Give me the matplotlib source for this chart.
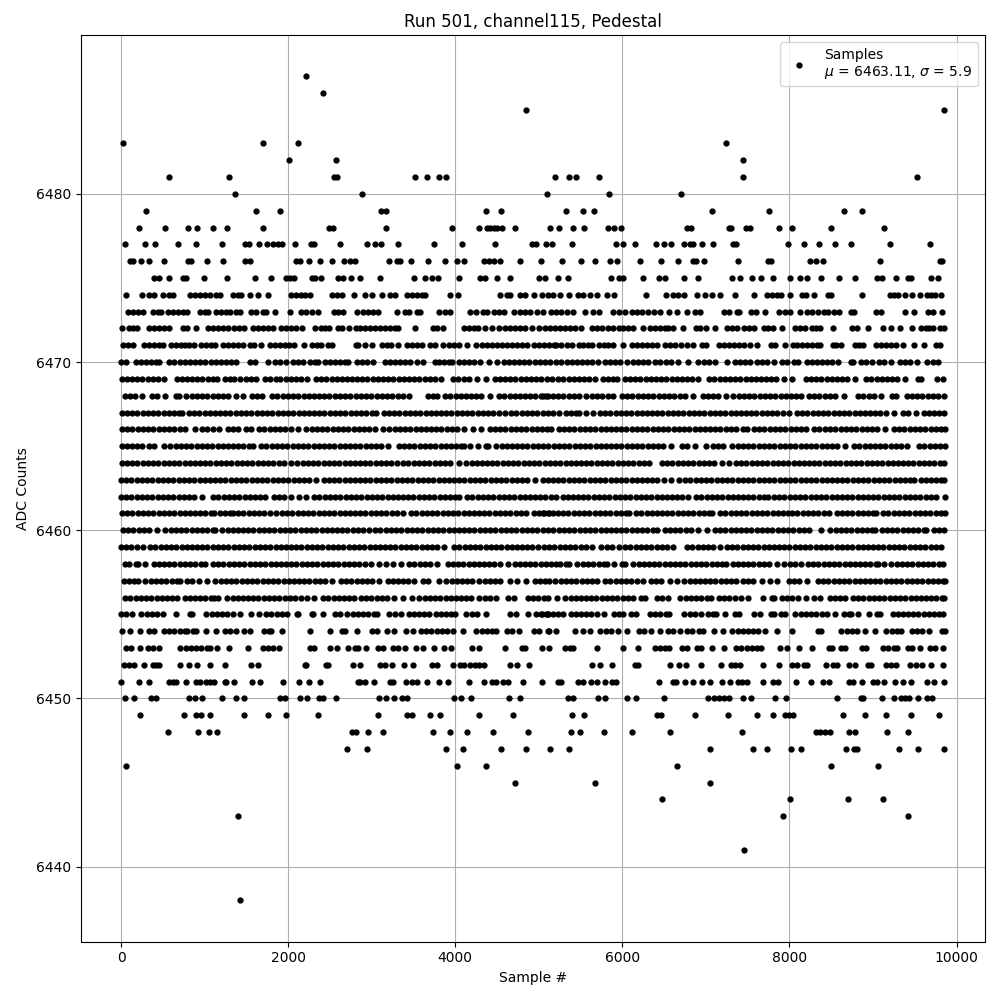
import matplotlib
matplotlib.use("Agg")
import matplotlib.pyplot as plt

title = "Run 501, channel115, Pedestal"
legend_label = "Samples\n$\\mu$ = 6463.11, $\\sigma$ = 5.9"

# sample numbers seen at each ADC level
s6487 = [2216]
s6486 = [2420]
s6485 = [4844, 9856]
s6483 = [20, 1700, 2120, 7236]
s6482 = [2012, 2576, 7440]
s6481 = [572, 1292, 2548, 2580, 3524, 3668, 3800, 3884, 5196, 5364, 5440, 5724, 7440, 9528]
s6480 = [1364, 2888, 5100, 5844, 6708]
s6479 = [296, 1616, 1904, 3112, 3172, 4364, 4544, 5328, 5532, 5664, 7068, 7752, 8652, 8868]
s6478 = [212, 524, 800, 908, 1100, 1268, 1700, 2484, 2540, 3176, 3956, 4280, 4380, 4420, 4460, 4500, 4560, 4712, 5136, 5244, 5412, 5544, 5832, 5904, 5988, 6780, 6820, 7272, 7304, 7484, 7532, 7872, 8028, 8496, 9132]
s6477 = [44, 288, 404, 680, 896, 1208, 1480, 1532, 1652, 1748, 1820, 1880, 1932, 2084, 2272, 2308, 2624, 2948, 3044, 3116, 3320, 3752, 4076, 4472, 4920, 4964, 5088, 5160, 5400, 5928, 6012, 6156, 6408, 6496, 6588, 6744, 6812, 6844, 6948, 7080, 7320, 7364, 7980, 8172, 8352, 8544, 8736, 9204, 9684]
s6476 = [108, 140, 236, 332, 512, 800, 840, 1028, 1220, 1480, 1548, 2092, 2148, 2252, 2384, 2520, 2672, 2740, 2800, 3212, 3300, 3340, 3476, 3680, 3872, 4016, 4100, 4340, 4400, 4460, 4540, 4772, 5024, 5280, 5508, 5676, 5856, 5940, 6216, 6468, 6672, 6852, 6884, 6972, 7380, 7744, 7780, 8244, 8324, 8400, 9084, 9804, 9828]
s6475 = [400, 460, 572, 740, 772, 992, 1268, 1604, 1796, 1972, 2020, 2072, 2280, 2320, 2396, 2596, 2660, 2748, 2864, 3104, 3512, 3644, 3724, 3788, 4048, 4300, 4360, 4500, 4652, 5000, 5072, 5232, 5352, 5868, 5964, 6004, 6252, 6444, 6516, 6744, 6900, 7308, 7404, 7548, 7656, 7800, 8004, 8124, 8208, 8376, 8592, 8784, 9052, 9112, 9276, 9420, 9452, 9696, 9780]
s6474 = [60, 248, 340, 400, 508, 580, 620, 820, 880, 940, 1000, 1060, 1140, 1180, 1344, 1400, 1440, 1540, 1640, 1764, 2040, 2100, 2160, 2200, 2264, 2520, 2580, 2640, 2792, 2920, 3000, 3128, 3220, 3280, 3420, 3480, 3540, 3600, 3640, 3932, 4032, 4540, 4620, 4660, 4780, 4840, 4940, 5040, 5112, 5172, 5252, 5364, 5472, 5532, 5612, 5692, 5816, 5896, 6288, 6528, 6604, 6672, 6744, 6892, 6984, 7068, 7164, 7352, 7580, 7732, 7792, 7852, 7900, 8004, 8152, 8204, 8292, 8460, 8492, 8868, 9204, 9252, 9300, 9384, 9468, 9564, 9652, 9692, 9748, 9816]
s6473 = [80, 140, 200, 260, 380, 440, 480, 560, 620, 680, 740, 788, 940, 1000, 1044, 1140, 1200, 1260, 1308, 1372, 1420, 1556, 1620, 1700, 1740, 1844, 2020, 2160, 2220, 2280, 2360, 2548, 2600, 2660, 2828, 2900, 2960, 3020, 3072, 3308, 3400, 3448, 3540, 3580, 3800, 3880, 3940, 4172, 4244, 4332, 4380, 4460, 4520, 4580, 4708, 4780, 4840, 4900, 4980, 5048, 5152, 5212, 5272, 5332, 5404, 5556, 5644, 5724, 5884, 5964, 6032, 6112, 6172, 6232, 6304, 6380, 6456, 6564, 6652, 6772, 6872, 6932, 7212, 7280, 7372, 7400, 7540, 7600, 7704, 7872, 7944, 8012, 8132, 8212, 8272, 8340, 8412, 8460, 8532, 8592, 8732, 8772, 9032, 9100, 9384, 9492, 9664, 9724, 9828]
s6472 = [8, 100, 140, 188, 340, 400, 460, 520, 572, 740, 788, 896, 1040, 1100, 1160, 1220, 1280, 1352, 1412, 1472, 1580, 1640, 1700, 1760, 1820, 1920, 1980, 2040, 2100, 2172, 2320, 2388, 2440, 2492, 2600, 2640, 2728, 2812, 2860, 2920, 2980, 3040, 3100, 3160, 3220, 3280, 3320, 3524, 3732, 3780, 3848, 4100, 4160, 4220, 4272, 4352, 4440, 4520, 4600, 4660, 4720, 4780, 4840, 4920, 5000, 5072, 5132, 5192, 5252, 5312, 5372, 5432, 5500, 5632, 5692, 5752, 5832, 5892, 5964, 6012, 6072, 6124, 6244, 6332, 6392, 6452, 6512, 6552, 6612, 6724, 6880, 6932, 7000, 7104, 7252, 7312, 7372, 7452, 7512, 7572, 7692, 7740, 7800, 7912, 8072, 8132, 8184, 8272, 8324, 8372, 8524, 8752, 8812, 8944, 9120, 9212, 9324, 9464, 9572, 9632, 9672, 9724, 9804, 9852]
s6471 = [20, 80, 148, 280, 340, 400, 460, 500, 600, 660, 720, 760, 812, 868, 960, 1020, 1080, 1128, 1220, 1280, 1340, 1400, 1460, 1540, 1588, 1680, 1788, 1848, 1908, 1960, 2012, 2068, 2196, 2288, 2340, 2388, 2480, 2520, 2808, 2840, 2920, 3000, 3120, 3180, 3228, 3320, 3420, 3480, 3540, 3600, 3700, 3760, 3848, 3920, 3980, 4040, 4140, 4248, 4320, 4380, 4440, 4500, 4560, 4620, 4680, 4740, 4800, 4860, 4940, 5000, 5060, 5120, 5180, 5212, 5272, 5332, 5392, 5484, 5532, 5592, 5632, 5724, 5780, 5832, 5892, 6004, 6112, 6172, 6232, 6292, 6352, 6412, 6512, 6572, 6632, 6700, 6772, 6844, 6952, 7000, 7152, 7212, 7272, 7332, 7392, 7452, 7532, 7612, 7780, 7832, 7944, 8040, 8092, 8152, 8212, 8272, 8332, 8372, 8524, 8552, 8620, 8780, 8832, 8884, 9032, 9092, 9152, 9212, 9276, 9364, 9492, 9612, 9752, 9804]
s6470 = [0, 60, 180, 240, 300, 360, 420, 460, 580, 640, 700, 760, 820, 880, 940, 1000, 1080, 1140, 1200, 1260, 1320, 1380, 1540, 1600, 1760, 1848, 1900, 1972, 2060, 2120, 2180, 2260, 2320, 2360, 2440, 2500, 2560, 2620, 2680, 2720, 2820, 2880, 2940, 3020, 3160, 3220, 3280, 3340, 3400, 3460, 3540, 3620, 3760, 3800, 3860, 3920, 3960, 4040, 4100, 4160, 4220, 4300, 4400, 4500, 4580, 4640, 4700, 4760, 4820, 4880, 4960, 5020, 5080, 5132, 5212, 5272, 5332, 5392, 5452, 5512, 5572, 5632, 5712, 5792, 5852, 5912, 5972, 6052, 6132, 6192, 6252, 6312, 6392, 6452, 6524, 6580, 6672, 6792, 6900, 6972, 7032, 7112, 7252, 7352, 7412, 7472, 7524, 7612, 7672, 7732, 7812, 7912, 7972, 8052, 8100, 8212, 8272, 8332, 8392, 8452, 8512, 8584, 8732, 8764, 8852, 8912, 8984, 9072, 9132, 9212, 9324, 9384, 9444, 9532, 9652, 9724, 9784]
s6469 = [10, 72, 130, 195, 255, 318, 380, 440, 510, 670, 730, 795, 855, 915, 975, 1040, 1100, 1150, 1250, 1310, 1350, 1430, 1490, 1550, 1620, 1725, 1785, 1850, 1905, 1970, 2030, 2095, 2155, 2225, 2330, 2395, 2455, 2520, 2580, 2640, 2705, 2765, 2830, 2890, 2950, 3015, 3075, 3140, 3200, 3260, 3325, 3385, 3450, 3510, 3570, 3635, 3695, 3760, 3825, 3975, 4035, 4100, 4160, 4265, 4372, 4475, 4535, 4600, 4660, 4720, 4785, 4845, 4910, 4970, 5030, 5095, 5160, 5235, 5295, 5360, 5420, 5480, 5545, 5605, 5670, 5765, 5825, 5885, 5940, 6030, 6090, 6155, 6215, 6280, 6340, 6400, 6465, 6525, 6590, 6650, 6710, 6775, 6835, 6900, 7040, 7100, 7165, 7225, 7290, 7350, 7410, 7475, 7535, 7600, 7660, 7720, 7785, 7845, 7940, 8032, 8195, 8255, 8320, 8380, 8445, 8505, 8565, 8630, 8690, 8780, 8920, 8980, 9045, 9105, 9170, 9230, 9290, 9380, 9535, 9580, 9765, 9840]
s6468 = [45, 105, 165, 250, 365, 430, 530, 655, 690, 780, 845, 905, 970, 1030, 1095, 1155, 1220, 1285, 1380, 1460, 1565, 1625, 1690, 1810, 1870, 1935, 1995, 2060, 2120, 2185, 2245, 2310, 2370, 2435, 2495, 2560, 2620, 2685, 2745, 2810, 2870, 2935, 2995, 3060, 3120, 3185, 3245, 3310, 3370, 3450, 3675, 3735, 3785, 3880, 3940, 4005, 4065, 4130, 4190, 4250, 4305, 4412, 4525, 4585, 4650, 4710, 4775, 4835, 4900, 4960, 5025, 5085, 5045, 5110, 5170, 5235, 5295, 5360, 5420, 5480, 5570, 5635, 5695, 5760, 5825, 5892, 5995, 6060, 6120, 6185, 6245, 6310, 6370, 6435, 6495, 6560, 6620, 6685, 6745, 6850, 6965, 7025, 7090, 7150, 7240, 7330, 7395, 7455, 7520, 7580, 7645, 7705, 7770, 7830, 7895, 7955, 8020, 8080, 8140, 8235, 8295, 8360, 8420, 8485, 8545, 8650, 8825, 8885, 8950, 9010, 9100, 9225, 9270, 9405, 9465, 9530, 9590, 9655, 9715, 9780, 9850]
s6467 = [10, 70, 135, 195, 260, 320, 385, 445, 510, 570, 635, 695, 730, 810, 875, 935, 1000, 1060, 1125, 1185, 1250, 1310, 1375, 1435, 1500, 1560, 1625, 1685, 1750, 1810, 1875, 1935, 2000, 2060, 2125, 2185, 2250, 2310, 2375, 2435, 2500, 2560, 2625, 2685, 2750, 2810, 2875, 2935, 3000, 3050, 3145, 3205, 3270, 3330, 3395, 3455, 3520, 3580, 3645, 3705, 3770, 3830, 3895, 3955, 4020, 4080, 4145, 4205, 4270, 4330, 4395, 4455, 4520, 4590, 4670, 4730, 4795, 4855, 4920, 4980, 5045, 5105, 5170, 5240, 5325, 5385, 5450, 5480, 5565, 5650, 5730, 5795, 5855, 5920, 5980, 6045, 6105, 6170, 6230, 6295, 6355, 6420, 6480, 6545, 6605, 6670, 6730, 6795, 6855, 6920, 6980, 7045, 7105, 7170, 7230, 7295, 7355, 7420, 7480, 7545, 7605, 7670, 7730, 7795, 7855, 7920, 8000, 8092, 8155, 8215, 8280, 8340, 8405, 8465, 8530, 8590, 8655, 8715, 8780, 8840, 8905, 8965, 9030, 9090, 9155, 9250, 9365, 9425, 9520, 9605, 9665, 9730, 9790, 9856]
s6466 = [10, 75, 135, 200, 260, 325, 385, 450, 510, 575, 635, 700, 760, 890, 975, 1035, 1100, 1170, 1275, 1340, 1400, 1490, 1560, 1655, 1715, 1780, 1840, 1905, 1965, 2030, 2115, 2220, 2285, 2345, 2410, 2470, 2535, 2595, 2660, 2720, 2785, 2845, 2910, 2970, 3035, 3130, 3210, 3275, 3335, 3400, 3460, 3525, 3585, 3650, 3710, 3775, 3835, 3900, 3960, 4025, 4110, 4215, 4310, 4415, 4475, 4540, 4600, 4665, 4725, 4790, 4850, 4915, 4975, 5040, 5100, 5150, 5240, 5300, 5365, 5425, 5490, 5550, 5615, 5675, 5740, 5800, 5865, 5925, 5990, 6050, 6115, 6175, 6240, 6300, 6365, 6425, 6490, 6550, 6615, 6675, 6740, 6800, 6865, 6925, 6990, 7050, 7115, 7175, 7240, 7300, 7365, 7440, 7492, 7575, 7640, 7700, 7765, 7825, 7890, 7950, 8015, 8075, 8140, 8200, 8300, 8352, 8425, 8490, 8550, 8615, 8675, 8740, 8800, 8865, 8925, 8990, 9050, 9140, 9250, 9315, 9375, 9440, 9500, 9565, 9625, 9690, 9750, 9815, 9858]
s6465 = [10, 70, 135, 195, 250, 340, 400, 510, 590, 655, 715, 780, 840, 905, 965, 1030, 1090, 1155, 1215, 1280, 1340, 1405, 1465, 1530, 1580, 1680, 1740, 1805, 1865, 1930, 1990, 2055, 2115, 2180, 2240, 2305, 2365, 2430, 2490, 2555, 2615, 2680, 2740, 2805, 2865, 2930, 2990, 3055, 3115, 3200, 3325, 3385, 3450, 3510, 3575, 3635, 3700, 3760, 3825, 3885, 3950, 4010, 4075, 4100, 4180, 4275, 4365, 4395, 4490, 4555, 4615, 4680, 4740, 4805, 4865, 4930, 4990, 5055, 5115, 5180, 5240, 5305, 5365, 5430, 5490, 5555, 5615, 5680, 5740, 5805, 5865, 5930, 5990, 6055, 6115, 6180, 6240, 6305, 6365, 6430, 6490, 6580, 6710, 6780, 6870, 7000, 7085, 7145, 7210, 7310, 7385, 7445, 7510, 7570, 7635, 7695, 7760, 7820, 7885, 7945, 8010, 8070, 8135, 8195, 8260, 8320, 8385, 8445, 8510, 8570, 8670, 8775, 8835, 8900, 8960, 9025, 9085, 9150, 9210, 9275, 9335, 9410, 9555, 9615, 9680, 9740, 9805, 9858]
s6464 = [10, 70, 135, 195, 260, 320, 385, 445, 510, 570, 635, 695, 760, 820, 885, 945, 1010, 1070, 1135, 1195, 1260, 1320, 1385, 1445, 1510, 1570, 1635, 1695, 1760, 1820, 1885, 1945, 2030, 2110, 2175, 2235, 2300, 2360, 2425, 2485, 2550, 2610, 2675, 2735, 2800, 2860, 2925, 2985, 3050, 3110, 3175, 3235, 3300, 3380, 3440, 3505, 3565, 3630, 3690, 3755, 3815, 3880, 3940, 4040, 4130, 4195, 4255, 4320, 4380, 4445, 4505, 4570, 4630, 4695, 4755, 4820, 4880, 4945, 5005, 5070, 5130, 5195, 5255, 5320, 5380, 5445, 5505, 5570, 5630, 5695, 5755, 5820, 5880, 5945, 6005, 6070, 6130, 6195, 6255, 6320, 6475, 6540, 6600, 6665, 6725, 6790, 6850, 6915, 6975, 7040, 7100, 7192, 7272, 7362, 7425, 7485, 7550, 7610, 7675, 7735, 7800, 7860, 7925, 7985, 8050, 8110, 8175, 8235, 8300, 8360, 8425, 8485, 8550, 8610, 8675, 8735, 8800, 8860, 8925, 8985, 9050, 9110, 9175, 9235, 9300, 9360, 9425, 9485, 9550, 9610, 9675, 9735, 9800, 9845]
s6463 = [2, 65, 125, 190, 250, 315, 375, 440, 500, 565, 625, 690, 750, 815, 875, 940, 1000, 1065, 1125, 1190, 1250, 1315, 1375, 1440, 1500, 1565, 1625, 1690, 1750, 1815, 1875, 1940, 2000, 2065, 2125, 2190, 2250, 2330, 2425, 2485, 2550, 2610, 2675, 2735, 2800, 2860, 2925, 2985, 3050, 3110, 3175, 3235, 3300, 3360, 3425, 3485, 3550, 3610, 3675, 3735, 3800, 3860, 3925, 3985, 4050, 4110, 4175, 4235, 4300, 4360, 4425, 4485, 4550, 4610, 4675, 4735, 4800, 4860, 4950, 5045, 5110, 5170, 5235, 5295, 5360, 5420, 5485, 5545, 5610, 5670, 5735, 5795, 5860, 5920, 5985, 6045, 6110, 6170, 6235, 6295, 6360, 6420, 6500, 6580, 6680, 6755, 6815, 6880, 6940, 7005, 7065, 7130, 7190, 7255, 7315, 7380, 7440, 7505, 7570, 7635, 7695, 7760, 7820, 7885, 7945, 8010, 8070, 8135, 8195, 8260, 8320, 8385, 8445, 8510, 8570, 8635, 8695, 8760, 8820, 8885, 8945, 9010, 9070, 9135, 9195, 9260, 9320, 9385, 9445, 9490, 9570, 9635, 9695, 9760, 9820, 9855]
s6462 = [2, 65, 125, 190, 250, 315, 375, 440, 500, 565, 625, 690, 750, 815, 875, 970, 1105, 1165, 1230, 1290, 1355, 1415, 1480, 1540, 1605, 1665, 1720, 1830, 1895, 1945, 2040, 2130, 2215, 2315, 2375, 2440, 2500, 2565, 2625, 2690, 2750, 2815, 2875, 2940, 3000, 3065, 3125, 3190, 3250, 3315, 3375, 3440, 3500, 3565, 3625, 3690, 3750, 3815, 3875, 3940, 4000, 4050, 4145, 4205, 4270, 4330, 4395, 4455, 4520, 4580, 4645, 4705, 4770, 4830, 4895, 4955, 5020, 5080, 5145, 5205, 5285, 5345, 5410, 5470, 5535, 5595, 5660, 5720, 5785, 5845, 5910, 5970, 6035, 6095, 6160, 6220, 6285, 6345, 6410, 6470, 6535, 6595, 6660, 6720, 6785, 6885, 6945, 7010, 7070, 7135, 7195, 7260, 7320, 7385, 7445, 7510, 7570, 7635, 7695, 7745, 7815, 7880, 7940, 8005, 8065, 8130, 8190, 8255, 8315, 8380, 8440, 8505, 8565, 8630, 8690, 8755, 8815, 8880, 8940, 9005, 9065, 9130, 9190, 9255, 9315, 9380, 9440, 9505, 9565, 9630, 9690, 9760, 9858]
s6461 = [10, 75, 135, 200, 260, 325, 385, 450, 510, 575, 635, 700, 760, 825, 885, 950, 1010, 1075, 1110, 1180, 1240, 1305, 1335, 1405, 1465, 1530, 1590, 1655, 1715, 1780, 1850, 1925, 1990, 2050, 2115, 2175, 2240, 2300, 2365, 2425, 2490, 2550, 2615, 2675, 2740, 2800, 2865, 2925, 2990, 3050, 3115, 3175, 3240, 3300, 3370, 3475, 3535, 3600, 3660, 3725, 3785, 3850, 3910, 3975, 4035, 4100, 4160, 4225, 4285, 4350, 4410, 4475, 4535, 4600, 4660, 4725, 4785, 4850, 4940, 5000, 5060, 5125, 5045, 5105, 5170, 5230, 5295, 5355, 5420, 5480, 5545, 5605, 5670, 5730, 5795, 5855, 5920, 5980, 6045, 6085, 6165, 6225, 6290, 6350, 6415, 6475, 6540, 6600, 6665, 6725, 6790, 6850, 6915, 6975, 7040, 7070, 7175, 7235, 7300, 7360, 7425, 7485, 7550, 7610, 7675, 7735, 7800, 7860, 7925, 7985, 8025, 8095, 8160, 8220, 8285, 8345, 8410, 8470, 8565, 8625, 8690, 8750, 8815, 8875, 8940, 9000, 9040, 9125, 9185, 9250, 9310, 9375, 9435, 9500, 9560, 9625, 9685, 9750, 9810, 9858]
s6460 = [20, 85, 145, 210, 270, 330, 428, 530, 595, 655, 720, 780, 845, 905, 970, 1030, 1095, 1130, 1210, 1275, 1335, 1400, 1460, 1525, 1585, 1650, 1710, 1775, 1835, 1900, 1960, 2025, 2085, 2150, 2210, 2275, 2335, 2400, 2460, 2525, 2585, 2650, 2710, 2775, 2835, 2900, 2970, 3045, 3105, 3170, 3230, 3295, 3355, 3420, 3480, 3545, 3605, 3670, 3730, 3795, 3855, 3920, 3980, 4045, 4105, 4170, 4230, 4295, 4355, 4420, 4480, 4545, 4605, 4670, 4730, 4795, 4855, 4920, 4980, 5045, 5105, 5175, 5240, 5300, 5365, 5425, 5490, 5550, 5615, 5675, 5740, 5800, 5865, 5925, 5990, 6050, 6115, 6175, 6240, 6300, 6365, 6420, 6510, 6570, 6635, 6695, 6760, 6820, 6910, 7012, 7110, 7170, 7235, 7295, 7360, 7420, 7485, 7545, 7610, 7670, 7735, 7795, 7860, 7920, 7985, 8045, 8110, 8170, 8240, 8380, 8490, 8555, 8615, 8680, 8740, 8805, 8865, 8930, 8990, 9020, 9105, 9165, 9230, 9290, 9355, 9415, 9480, 9540, 9605, 9640, 9725, 9785, 9850]
s6459 = [2, 65, 125, 190, 260, 350, 410, 475, 535, 600, 660, 725, 785, 850, 910, 975, 1035, 1100, 1160, 1225, 1285, 1350, 1410, 1475, 1535, 1600, 1660, 1725, 1785, 1850, 1910, 1975, 2035, 2100, 2160, 2225, 2285, 2350, 2410, 2475, 2535, 2600, 2660, 2725, 2785, 2850, 2910, 2975, 3035, 3100, 3160, 3225, 3285, 3350, 3410, 3475, 3535, 3600, 3660, 3725, 3785, 3870, 3990, 4050, 4115, 4175, 4240, 4300, 4365, 4425, 4490, 4550, 4615, 4675, 4740, 4800, 4865, 4925, 4990, 5060, 5125, 5185, 5250, 5310, 5375, 5435, 5500, 5560, 5640, 5750, 5815, 5875, 5960, 6035, 6095, 6160, 6220, 6285, 6345, 6410, 6470, 6535, 6610, 6770, 6830, 6900, 6965, 7030, 7090, 7170, 7250, 7315, 7375, 7440, 7500, 7565, 7625, 7690, 7750, 7815, 7875, 7940, 8000, 8065, 8125, 8190, 8250, 8315, 8375, 8440, 8500, 8565, 8625, 8690, 8750, 8815, 8875, 8940, 9000, 9065, 9125, 9190, 9250, 9315, 9375, 9440, 9500, 9565, 9625, 9690, 9750, 9820]
s6458 = [50, 90, 178, 200, 288, 390, 455, 515, 580, 640, 705, 765, 830, 890, 955, 1010, 1100, 1165, 1225, 1290, 1350, 1415, 1475, 1540, 1600, 1665, 1725, 1790, 1850, 1915, 1975, 2040, 2100, 2165, 2225, 2290, 2350, 2415, 2475, 2540, 2600, 2665, 2725, 2790, 2850, 2915, 2990, 3090, 3170, 3255, 3350, 3450, 3510, 3575, 3635, 3700, 3780, 3910, 3970, 4035, 4095, 4160, 4220, 4285, 4345, 4410, 4470, 4535, 4630, 4710, 4775, 4835, 4900, 4960, 5025, 5085, 5150, 5210, 5255, 5330, 5365, 5452, 5530, 5590, 5655, 5715, 5780, 5820, 5900, 5995, 6030, 6130, 6195, 6255, 6320, 6380, 6445, 6505, 6570, 6630, 6695, 6755, 6820, 6880, 6945, 7005, 7070, 7130, 7195, 7240, 7320, 7385, 7445, 7510, 7570, 7635, 7695, 7760, 7855, 7940, 8005, 8065, 8140, 8220, 8285, 8345, 8410, 8470, 8535, 8595, 8660, 8720, 8785, 8845, 8910, 8970, 9035, 9060, 9132, 9220, 9285, 9345, 9410, 9470, 9535, 9595, 9660, 9720, 9785, 9840]
s6457 = [34, 95, 160, 198, 290, 355, 415, 480, 540, 605, 665, 700, 795, 850, 938, 1030, 1130, 1195, 1255, 1320, 1380, 1445, 1505, 1570, 1630, 1695, 1755, 1820, 1880, 1945, 2005, 2070, 2130, 2195, 2255, 2320, 2380, 2445, 2530, 2630, 2695, 2755, 2820, 2880, 2945, 3005, 3090, 3190, 3255, 3315, 3380, 3440, 3505, 3610, 3680, 3800, 3895, 3960, 4020, 4085, 4145, 4200, 4290, 4355, 4415, 4480, 4540, 4650, 4740, 4852, 4950, 5010, 5075, 5120, 5200, 5265, 5325, 5390, 5450, 5515, 5575, 5640, 5700, 5795, 5855, 5920, 5980, 6045, 6105, 6175, 6244, 6340, 6405, 6465, 6565, 6660, 6740, 6805, 6865, 6930, 6990, 7055, 7115, 7180, 7240, 7305, 7360, 7440, 7505, 7565, 7670, 7770, 7855, 7990, 8055, 8115, 8205, 8340, 8405, 8465, 8530, 8590, 8655, 8715, 8780, 8840, 8905, 8965, 9030, 9090, 9155, 9215, 9280, 9340, 9405, 9465, 9530, 9590, 9655, 9715, 9780, 9840, 9858]
s6456 = [50, 110, 175, 235, 300, 360, 425, 485, 550, 610, 670, 762, 825, 885, 950, 1010, 1075, 1110, 1160, 1270, 1335, 1395, 1460, 1520, 1585, 1645, 1710, 1770, 1835, 1895, 1960, 2020, 2085, 2150, 2230, 2310, 2418, 2480, 2545, 2605, 2670, 2730, 2785, 2870, 2935, 2995, 3060, 3120, 3185, 3270, 3370, 3480, 3570, 3635, 3695, 3760, 3820, 3885, 3945, 4010, 4070, 4135, 4190, 4290, 4355, 4415, 4490, 4630, 4702, 4870, 4935, 4995, 5060, 5110, 5215, 5314, 5380, 5440, 5505, 5565, 5630, 5690, 5755, 5815, 5880, 5940, 6005, 6065, 6130, 6222, 6270, 6410, 6480, 6550, 6694, 6760, 6820, 6885, 6945, 7010, 7062, 7154, 7220, 7280, 7345, 7422, 7500, 7684, 7790, 7815, 7910, 7975, 8035, 8100, 8202, 8290, 8362, 8482, 8545, 8605, 8662, 8762, 8825, 8885, 8950, 9010, 9075, 9135, 9200, 9260, 9325, 9385, 9450, 9510, 9575, 9635, 9700, 9760, 9825, 9854]
s6455 = [2, 65, 130, 242, 305, 365, 430, 500, 656, 820, 850, 1020, 1085, 1145, 1210, 1270, 1340, 1428, 1556, 1652, 1738, 1800, 1865, 1925, 1990, 2102, 2118, 2282, 2294, 2420, 2558, 2618, 2710, 2775, 2835, 2900, 2960, 3025, 3062, 3210, 3275, 3350, 3442, 3505, 3565, 3630, 3690, 3770, 3830, 3895, 3955, 3998, 4130, 4195, 4258, 4368, 4652, 4724, 4868, 4962, 5025, 5085, 5110, 5042, 5105, 5170, 5230, 5286, 5382, 5445, 5505, 5570, 5630, 5695, 5782, 5902, 5965, 6014, 6102, 6166, 6330, 6395, 6455, 6520, 6562, 6742, 6805, 6865, 6942, 7022, 7085, 7118, 7232, 7354, 7398, 7582, 7642, 7782, 7814, 7902, 7942, 8070, 8135, 8195, 8260, 8320, 8385, 8445, 8542, 8650, 8715, 8742, 8824, 8956, 9054, 9090, 9234, 9295, 9355, 9420, 9480, 9545, 9605, 9670, 9730, 9795, 9842]
s6454 = [12, 108, 232, 340, 392, 510, 575, 640, 700, 765, 790, 860, 902, 1020, 1132, 1242, 1305, 1382, 1472, 1540, 1710, 1775, 1790, 1924, 2260, 2500, 2650, 2682, 2828, 3008, 3060, 3180, 3272, 3410, 3490, 3590, 3655, 3715, 3780, 3840, 3905, 3970, 4092, 4250, 4315, 4375, 4440, 4490, 4620, 4680, 4760, 4940, 5000, 5120, 5112, 5212, 5432, 5532, 5612, 5730, 5800, 5870, 5952, 6052, 6202, 6265, 6342, 6452, 6552, 6612, 6692, 6772, 6832, 6912, 6964, 7092, 7204, 7314, 7380, 7440, 7505, 7565, 7630, 7702, 7852, 8032, 8342, 8382, 8622, 8685, 8750, 8810, 8902, 9024, 9162, 9225, 9285, 9334, 9462, 9525, 9590, 9670, 9824, 9858]
s6453 = [60, 120, 228, 320, 380, 452, 710, 775, 835, 900, 960, 1025, 1070, 1148, 1292, 1520, 1698, 1760, 1825, 1890, 2260, 2308, 2500, 2580, 2720, 2800, 2840, 2936, 3080, 3140, 3252, 3320, 3400, 3530, 3610, 3752, 3860, 3944, 4200, 4280, 4592, 4800, 4840, 5040, 5124, 5312, 5372, 5412, 5700, 6012, 6192, 6392, 6452, 6512, 6560, 6712, 6780, 6892, 6940, 7072, 7212, 7362, 7425, 7490, 7550, 7615, 7662, 7892, 7972, 8112, 8272, 8472, 8512, 8622, 8662, 8872, 8920, 9122, 9185, 9250, 9282, 9422, 9470, 9564, 9682, 9742, 9840]
s6452 = [40, 100, 160, 280, 380, 420, 460, 704, 812, 908, 1064, 1244, 1552, 1640, 2200, 2220, 2452, 2480, 2780, 2860, 3100, 3160, 3240, 3384, 3500, 3720, 3780, 3968, 4052, 4100, 4172, 4232, 4280, 4340, 4652, 4736, 4880, 5632, 5732, 5880, 6152, 6184, 6576, 6684, 6768, 6936, 7176, 7300, 7352, 7404, 7680, 7872, 8032, 8092, 8172, 8212, 8436, 8520, 8572, 8712, 8780, 8940, 8980, 9160, 9212, 9272, 9444, 9512, 9592, 9692, 9840]
s6451 = [0, 212, 332, 572, 620, 660, 776, 900, 948, 1020, 1060, 1112, 1240, 1260, 1352, 1568, 1660, 1940, 2132, 2252, 2384, 2840, 2860, 2924, 3032, 3220, 3260, 3416, 3488, 3548, 3664, 3800, 3908, 4160, 4340, 4440, 4492, 4572, 4628, 4808, 5036, 5232, 5272, 5472, 5532, 5620, 5692, 5792, 5872, 5920, 6444, 6604, 6644, 6756, 6852, 6952, 7052, 7192, 7292, 7380, 7432, 7492, 7680, 7800, 7860, 8076, 8256, 8400, 8476, 8712, 8764, 8868, 9000, 9052, 9132, 9264, 9364, 9452, 9652, 9732, 9852]
s6450 = [44, 152, 360, 420, 812, 884, 968, 1208, 1372, 1472, 1900, 1960, 2144, 2228, 2372, 2412, 2576, 3092, 3176, 3272, 3360, 3420, 3980, 4064, 4184, 4640, 4772, 5352, 5412, 5712, 5792, 6060, 6160, 6504, 7020, 7092, 7152, 7212, 7272, 7440, 7540, 7824, 7956, 8568, 8852, 8884, 9108, 9252, 9332, 9380, 9432, 9540, 9652, 9712]
s6449 = [224, 752, 896, 956, 1064, 1472, 1760, 1976, 2360, 3080, 3420, 3480, 3704, 3812, 4280, 4688, 5400, 5544, 6420, 6460, 6864, 7260, 7608, 7800, 7952, 7992, 8044, 8640, 8904, 9156, 9456, 9792]
s6448 = [560, 920, 1052, 1144, 2768, 2812, 2960, 3140, 3740, 3932, 4136, 4448, 4868, 5388, 5496, 5784, 6120, 6576, 7428, 8324, 8372, 8420, 8484, 8712, 8784, 9168, 9420]
s6447 = [2708, 2948, 3884, 4088, 4544, 4844, 5132, 5364, 7044, 7560, 7728, 8016, 8136, 8676, 8772, 8812, 9312, 9540, 9852]
s6446 = [56, 4016, 4364, 6660, 8496, 9060]
s6445 = [4712, 5676, 7044]
s6444 = [6480, 8004, 8700, 9120]
s6443 = [1400, 7920, 9420]
s6441 = [7452]
s6438 = [1424]

levels = {
    6487: s6487, 6486: s6486, 6485: s6485, 6483: s6483, 6482: s6482, 6481: s6481,
    6480: s6480, 6479: s6479, 6478: s6478, 6477: s6477, 6476: s6476, 6475: s6475,
    6474: s6474, 6473: s6473, 6472: s6472, 6471: s6471, 6470: s6470, 6469: s6469,
    6468: s6468, 6467: s6467, 6466: s6466, 6465: s6465, 6464: s6464, 6463: s6463,
    6462: s6462, 6461: s6461, 6460: s6460, 6459: s6459, 6458: s6458, 6457: s6457,
    6456: s6456, 6455: s6455, 6454: s6454, 6453: s6453, 6452: s6452, 6451: s6451,
    6450: s6450, 6449: s6449, 6448: s6448, 6447: s6447, 6446: s6446, 6445: s6445,
    6444: s6444, 6443: s6443, 6441: s6441, 6438: s6438,
}

samples = []
counts = []
for adc, row in levels.items():
    samples.extend(row)
    counts.extend([adc] * len(row))

fig, ax = plt.subplots(figsize=(10, 10), dpi=100)
ax.plot(samples, counts, "k.", markersize=7, label=legend_label)
ax.set_title(title)
ax.set_xlabel("Sample #")
ax.set_ylabel("ADC Counts")
ax.grid(True)
ax.legend(loc="upper right")
ax.set_xlim(-479, 10341)
fig.subplots_adjust(left=0.081, right=0.985, top=0.965, bottom=0.0585)
fig.savefig("out.png", dpi=100)
